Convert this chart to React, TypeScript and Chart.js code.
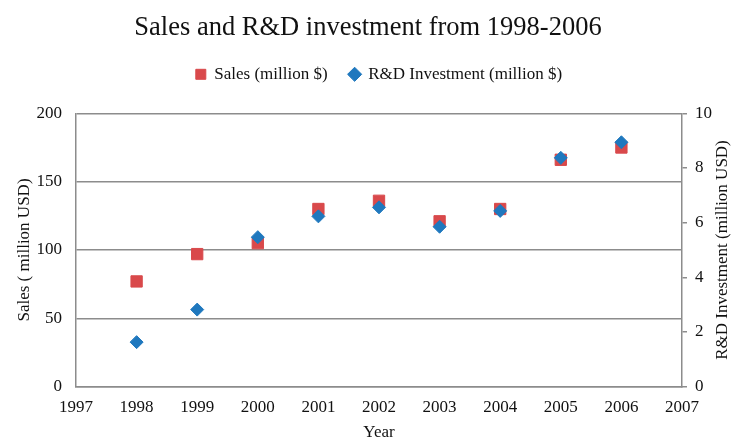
import React, { useEffect, useRef } from 'react';
import { Chart, registerables } from 'chart.js';

Chart.register(...registerables);

const years = [1998, 1999, 2000, 2001, 2002, 2003, 2004, 2005, 2006];
const salesValues = [77, 97, 105, 130, 136, 121, 130, 166, 175];
const rdValues = [1.63, 2.82, 5.47, 6.23, 6.56, 5.85, 6.43, 8.37, 8.94];

const titleText = 'Sales and R&D investment from 1998-2006';
const salesLabel = 'Sales (million $)';
const rdLabel = 'R&D Investment (million $)';
const xTitle = 'Year';
const yLeftTitle = 'Sales ( million USD)';
const yRightTitle = 'R&D Investment (million USD)';

const FONT = "'Liberation Serif', 'Times New Roman', serif";
const RED = '#d9494b';
const BLUE = '#1f78be';
const GRID = '#8c8c8c';
const TEXT = '#111111';

// Right axis title reads bottom-to-top like the left one.
const rightTitlePlugin = {
  id: 'rightTitle',
  afterDraw(chart: any) {
    const s = chart.scales.y1;
    if (!s) return;
    const ctx = chart.ctx;
    ctx.save();
    ctx.translate(s.right - 13, (s.top + s.bottom) / 2);
    ctx.rotate(-Math.PI / 2);
    ctx.textAlign = 'center';
    ctx.textBaseline = 'middle';
    ctx.fillStyle = TEXT;
    ctx.font = `17px ${FONT}`;
    ctx.fillText(yRightTitle, 0, 0);
    ctx.restore();
  },
};

export default function App() {
  const ref = useRef<HTMLCanvasElement>(null);

  useEffect(() => {
    const chart = new Chart(ref.current!, {
      type: 'scatter',
      plugins: [rightTitlePlugin],
      data: {
        datasets: [
          {
            label: salesLabel,
            data: years.map((y, i) => ({ x: y, y: salesValues[i] })),
            yAxisID: 'y',
            pointStyle: 'rect',
            pointRadius: 8,
            pointHoverRadius: 8,
            backgroundColor: RED,
            borderColor: RED,
            borderWidth: 1,
            order: 1,
          },
          {
            label: rdLabel,
            data: years.map((y, i) => ({ x: y, y: rdValues[i] })),
            yAxisID: 'y1',
            pointStyle: 'rectRot',
            pointRadius: 6.5,
            pointHoverRadius: 6.5,
            backgroundColor: BLUE,
            borderColor: BLUE,
            borderWidth: 1,
            order: 0,
          },
        ],
      },
      options: {
        responsive: true,
        maintainAspectRatio: false,
        animation: false,
        layout: { padding: 0 },
        plugins: {
          tooltip: { enabled: false },
          title: {
            display: true,
            text: titleText,
            color: TEXT,
            font: { family: FONT, size: 26.5, weight: 'normal', lineHeight: 1.2 },
            padding: { top: 12, bottom: 0 },
          },
          subtitle: {
            display: true,
            text: '',
            weight: 500,
            fullSize: false,
            font: { family: FONT, size: 20.5, lineHeight: 1 },
            padding: 0,
          },
          legend: {
            display: true,
            position: 'top',
            fullSize: false,
            labels: {
              usePointStyle: true,
              boxWidth: 10,
              boxHeight: 10,
              padding: 22,
              color: TEXT,
              font: { family: FONT, size: 17 },
              sort: (a: any, b: any) => a.datasetIndex - b.datasetIndex,
            },
          },
        },
        scales: {
          x: {
            type: 'linear',
            position: 'bottom',
            min: 1997,
            max: 2007,
            afterFit: (s: any) => { s.height = 52.3; },
            ticks: {
              stepSize: 1,
              padding: 11,
              color: TEXT,
              font: { family: FONT, size: 17 },
              callback: (v: any) => String(v),
            },
            grid: { display: false, drawTicks: false },
            border: { display: true, color: GRID, width: 1.5 },
            title: {
              display: true,
              text: xTitle,
              color: TEXT,
              font: { family: FONT, size: 17, lineHeight: 0.8 },
              padding: { top: 0, bottom: 0 },
            },
          },
          y: {
            type: 'linear',
            position: 'left',
            min: 0,
            max: 200,
            afterFit: (s: any) => { s.width = 76; },
            ticks: {
              stepSize: 50,
              padding: 14,
              color: TEXT,
              font: { family: FONT, size: 17 },
            },
            grid: { display: true, drawTicks: false, color: GRID, lineWidth: 1.5 },
            border: { display: true, color: GRID, width: 1.5 },
            title: {
              display: true,
              text: yLeftTitle,
              color: TEXT,
              font: { family: FONT, size: 17, lineHeight: 1.2 },
              padding: { top: 14.8, bottom: 0 },
            },
          },
          y1: {
            type: 'linear',
            position: 'right',
            min: 0,
            max: 10,
            afterFit: (s: any) => { s.width = 54; },
            ticks: {
              stepSize: 2,
              padding: 8,
              color: TEXT,
              font: { family: FONT, size: 17 },
            },
            grid: { display: true, drawOnChartArea: false, drawTicks: true, tickLength: 5, color: GRID, lineWidth: 1.5 },
            border: { display: true, color: GRID, width: 1.5 },
            title: { display: false },
          },
        },
      },
    } as any);
    return () => chart.destroy();
  }, []);

  return (
    <div style={{ position: 'absolute', left: 0, top: 0, width: 736, height: 439, background: '#ffffff' }}>
      <canvas ref={ref} />
    </div>
  );
}
